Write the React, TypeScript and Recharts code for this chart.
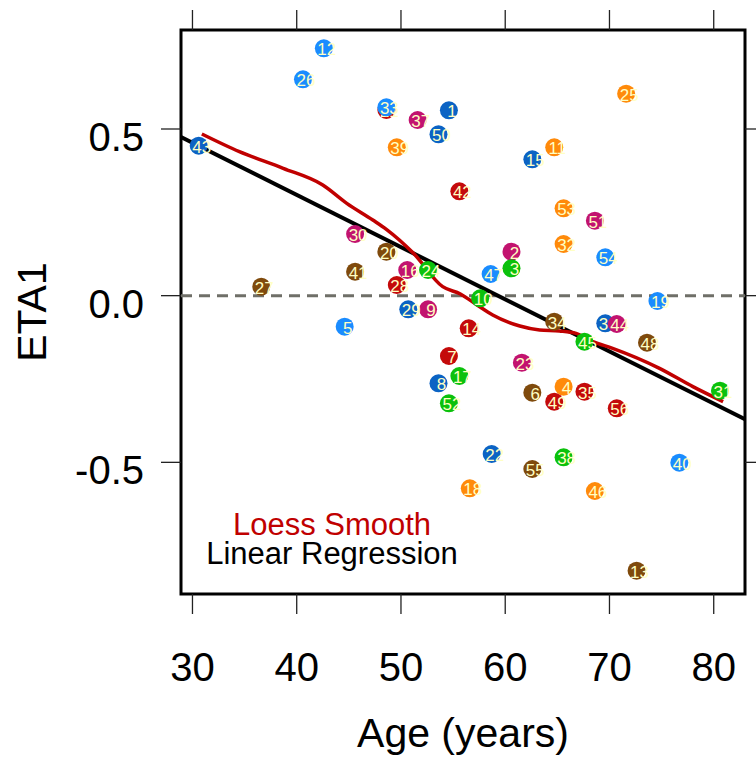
import React from 'react';
import {
  ComposedChart,
  Scatter,
  Line,
  XAxis,
  YAxis,
  ReferenceLine,
  ReferenceArea,
  Label,
} from 'recharts';

// subject ids, age and random-effect estimate (ETA1)
const ids = [
  1, 2, 3, 4, 5, 6, 7, 8, 9, 10, 11, 12, 13, 14, 15, 16, 17, 18, 19, 20, 21, 22, 23, 24, 25, 26, 27, 28,
  29, 30, 31, 32, 33, 34, 35, 36, 37, 38, 39, 40, 41, 42, 43, 44, 45, 46, 47, 48, 49, 50, 51, 52, 53, 54, 55, 56,
];
const ages = [
  54.6, 60.6, 60.6, 65.6, 44.6, 62.6, 54.6, 53.6, 52.6, 57.6, 64.7, 42.6, 72.6, 56.5, 62.6, 50.6, 55.6, 56.6,
  74.6, 48.6, 48.6, 58.7, 61.6, 52.6, 71.6, 40.6, 36.6, 49.6, 50.7, 45.6, 80.6, 65.6, 48.6, 64.7, 67.6, 69.6,
  51.6, 65.6, 49.6, 76.7, 45.6, 55.6, 30.6, 70.7, 67.6, 68.6, 58.6, 73.6, 64.7, 53.6, 68.6, 54.6, 65.6, 69.6,
  62.6, 70.7,
];
const eta1 = [
  0.556, 0.132, 0.082, -0.273, -0.093, -0.291, -0.181, -0.263, -0.041, -0.008, 0.445, 0.742, -0.825, -0.098,
  0.409, 0.077, -0.241, -0.578, -0.016, 0.132, 0.557, -0.475, -0.201, 0.077, 0.606, 0.649, 0.027, 0.032,
  -0.041, 0.185, -0.285, 0.155, 0.565, -0.078, -0.288, -0.083, 0.527, -0.485, 0.445, -0.501, 0.072, 0.313,
  0.45, -0.085, -0.138, -0.586, 0.065, -0.141, -0.318, 0.484, 0.225, -0.323, 0.262, 0.115, -0.52, -0.338,
];

// loess smooth
const loessAge = [30.9, 34.5, 38.7, 42.5, 44.8, 47.3, 48.6, 51.2, 54.0, 55.7, 57.3, 58.8, 61.4, 63.3, 65.2, 66.8, 68.4, 70.3, 74.8, 78.0, 80.9];
const loessEta = [0.485, 0.432, 0.382, 0.332, 0.277, 0.227, 0.199, 0.127, 0.027, 0.005, -0.028, -0.058, -0.091, -0.103, -0.106, -0.113, -0.138, -0.158, -0.218, -0.273, -0.318];

// linear regression line, ends at the panel edges
const regAge = [28.9, 83.0];
const regEta = [0.476, -0.371];

const xTicks = [30, 40, 50, 60, 70, 80];
const yTicks = [-0.5, 0, 0.5];
const xDomain = [28.9, 83.0];
const yDomain = [-0.895, 0.797];

const palette = ['#0b63c4', '#c2136f', '#0bc10b', '#ff8a0a', '#1a8cff', '#7f4a0c', '#c40a0a'];
const FONT = '"Liberation Sans", Arial, sans-serif';

const points = ids.map((id, i) => ({ id, x: ages[i], y: eta1[i], color: palette[(id - 1) % palette.length] }));
const loess = loessAge.map((x, i) => ({ x, y: loessEta[i] }));
const reg = regAge.map((x, i) => ({ x, y: regEta[i] }));

const IdDot = (props: any) => {
  const { cx, cy, payload } = props;
  if (cx == null || cy == null) return null;
  return (
    <g>
      <circle cx={cx} cy={cy} r={9} fill={payload.color} />
      <text x={cx + 3} y={cy + 7} textAnchor="middle" fontSize={17} fontFamily={FONT} fill="#ffffc4">
        {payload.id}
      </text>
    </g>
  );
};

const XTick = (props: any) => (
  <text x={props.x} y={props.y + 67} textAnchor="middle" fontSize={40} fontFamily={FONT} fill="#000">
    {props.payload.value}
  </text>
);

const YTick = (props: any) => (
  <text x={props.x} y={props.y + 22} textAnchor="end" fontSize={40} fontFamily={FONT} fill="#000">
    {Number(props.payload.value).toFixed(1)}
  </text>
);

// top / right axes: tick marks only
const NoLabel = () => <g />;

const XTitle = (props: any) => {
  const vb = props.viewBox || { x: 181, y: 594, width: 564, height: 164 };
  return (
    <text x={vb.x + vb.width / 2} y={vb.y + 153} textAnchor="middle" fontSize={41} fontFamily={FONT} fill="#000">
      Age (years)
    </text>
  );
};

const YTitle = (props: any) => {
  const vb = props.viewBox || { x: 0, y: 30, width: 181, height: 564 };
  const cx = vb.x + 46;
  const cy = vb.y + vb.height / 2;
  return (
    <text x={cx} y={cy} transform={`rotate(-90 ${cx} ${cy})`} textAnchor="middle" fontSize={41} fontFamily={FONT} fill="#000">
      ETA1
    </text>
  );
};

export default function App() {
  return (
    <div style={{ position: 'fixed', left: 0, top: 0, width: 756, height: 758, background: '#fff' }}>
      <ComposedChart width={756} height={758} margin={{ top: 0, right: 0, bottom: 0, left: 0 }}>
        <XAxis
          dataKey="x"
          type="number"
          domain={xDomain}
          ticks={xTicks}
          allowDataOverflow
          height={164}
          axisLine={false}
          tickSize={20}
          tickMargin={0}
          tickLine={{ stroke: '#222', strokeWidth: 1.3 }}
          tick={<XTick />}
          label={<Label content={<XTitle />} />}
        />
        <XAxis
          xAxisId="top"
          dataKey="x"
          orientation="top"
          type="number"
          domain={xDomain}
          ticks={xTicks}
          allowDataOverflow
          height={30}
          axisLine={false}
          tickSize={20}
          tickLine={{ stroke: '#222', strokeWidth: 1.3 }}
          tick={<NoLabel />}
        />
        <YAxis
          type="number"
          domain={yDomain}
          ticks={yTicks}
          allowDataOverflow
          width={181}
          axisLine={false}
          tickSize={20}
          tickMargin={17}
          tickLine={{ stroke: '#222', strokeWidth: 1.3 }}
          tick={<YTick />}
          label={<Label content={<YTitle />} />}
        />
        <YAxis
          yAxisId="right"
          orientation="right"
          type="number"
          domain={yDomain}
          ticks={yTicks}
          allowDataOverflow
          width={11}
          axisLine={false}
          tickSize={20}
          tickLine={{ stroke: '#222', strokeWidth: 1.3 }}
          tick={<NoLabel />}
        />
        <ReferenceLine y={0} stroke="#6f6f68" strokeWidth={3} strokeDasharray="11 7" />
        <Scatter data={points} dataKey="y" shape={<IdDot />} isAnimationActive={false} />
        <Line data={reg} dataKey="y" type="linear" stroke="#000" strokeWidth={4} dot={false} activeDot={false} isAnimationActive={false} />
        <Line data={loess} dataKey="y" type="monotone" stroke="#c00000" strokeWidth={3.5} dot={false} activeDot={false} isAnimationActive={false} />
        <ReferenceArea x1={xDomain[0]} x2={xDomain[1]} y1={yDomain[0]} y2={yDomain[1]} fill="none" stroke="#000" strokeWidth={3} />
        <text x={332} y={535} textAnchor="middle" fontSize={31} fontFamily={FONT} fill="#c00000">
          Loess Smooth
        </text>
        <text x={332} y={564} textAnchor="middle" fontSize={31} fontFamily={FONT} fill="#000">
          Linear Regression
        </text>
      </ComposedChart>
    </div>
  );
}
